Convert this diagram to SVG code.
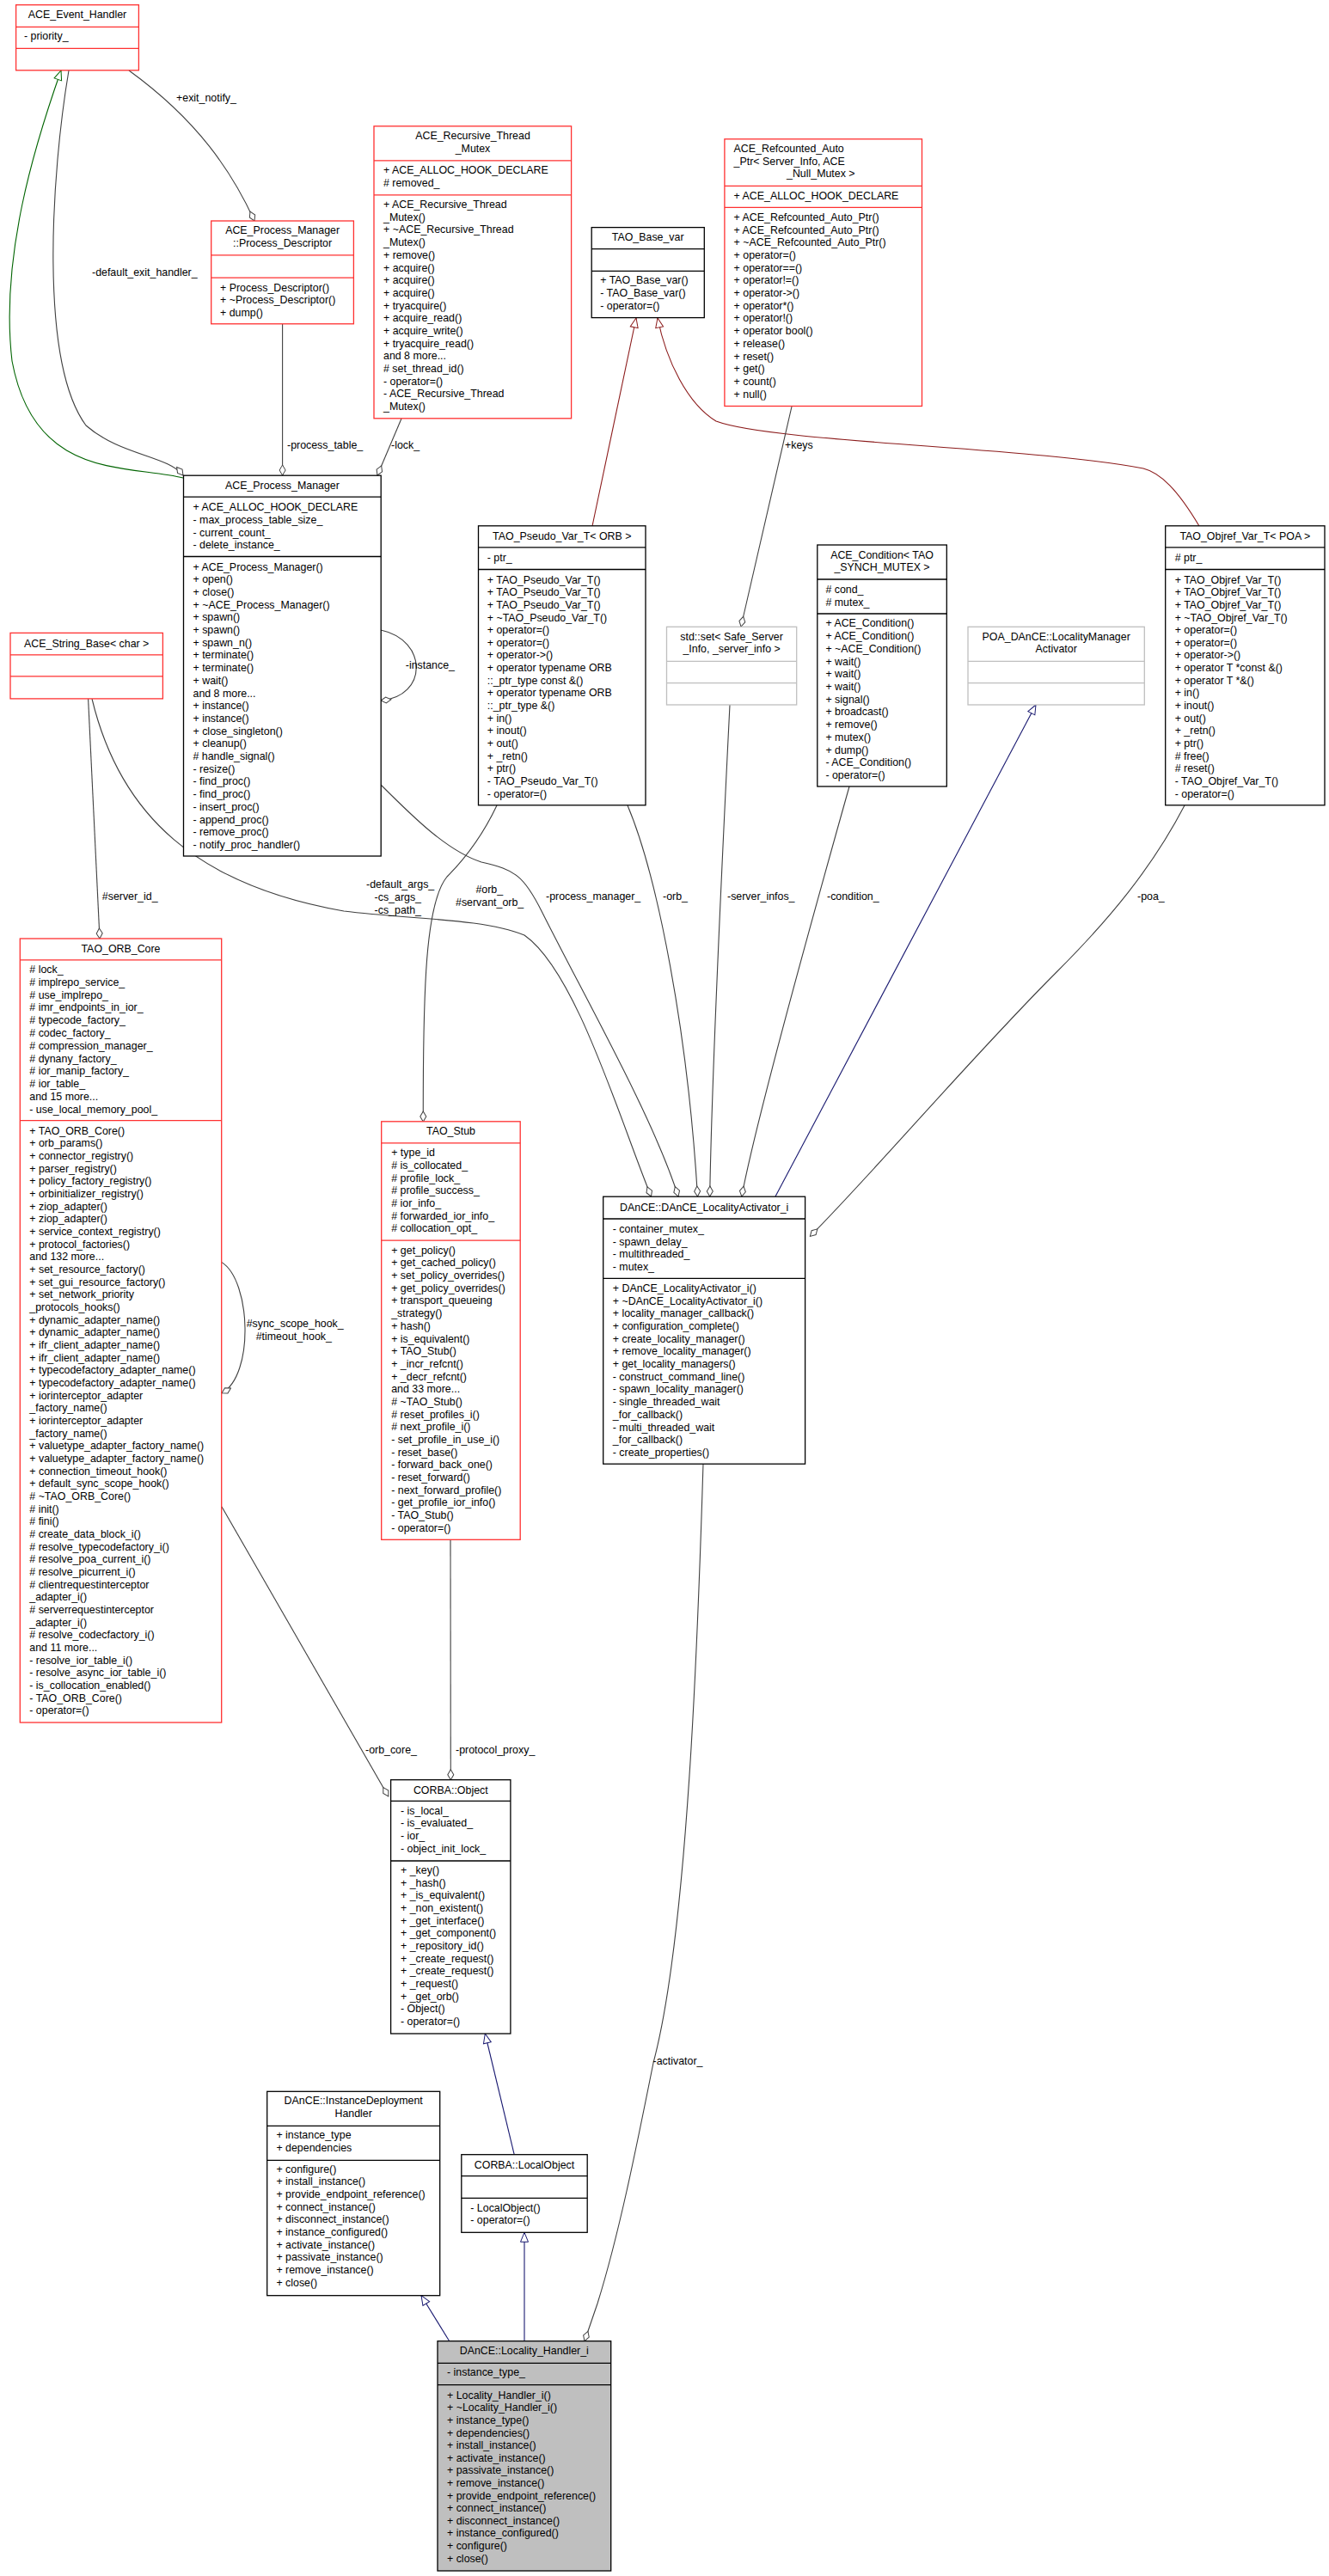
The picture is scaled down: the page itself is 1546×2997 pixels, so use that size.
<svg xmlns="http://www.w3.org/2000/svg" width="1546" height="2997" viewBox="0 0 1546 2997">
<style>
text{font-family:"Liberation Sans",Arial,sans-serif;font-size:12.4px;fill:#000}
.c{text-anchor:middle}
.box{fill:#fff;stroke:#000;stroke-width:1.3}
.red{fill:#fff;stroke:#ff3030;stroke-width:1.3}
.gry{fill:#fff;stroke:#bfbfbf;stroke-width:1.3}
.cur{fill:#bfbfbf;stroke:#000;stroke-width:1.3}
.e{fill:none;stroke:#404040;stroke-width:1.1}
.eg{fill:none;stroke:#006400;stroke-width:1.1}
.er{fill:none;stroke:#8b1a1a;stroke-width:1.1}
.eb{fill:none;stroke:#191970;stroke-width:1.1}
</style>
<defs>
<marker id="dm" markerUnits="userSpaceOnUse" markerWidth="14" markerHeight="10" viewBox="-1 -5 14 10" refX="12" refY="0" orient="auto"><path d="M0,0 L6,-3.5 L12,0 L6,3.5 Z" fill="#fff" stroke="#404040" stroke-width="1"/></marker>
<marker id="tg" markerUnits="userSpaceOnUse" markerWidth="14" markerHeight="12" viewBox="-1 -6 14 12" refX="11" refY="0" orient="auto"><path d="M0,-4.5 L11,0 L0,4.5 Z" fill="#fff" stroke="#006400" stroke-width="1"/></marker>
<marker id="tr" markerUnits="userSpaceOnUse" markerWidth="14" markerHeight="12" viewBox="-1 -6 14 12" refX="11" refY="0" orient="auto"><path d="M0,-4.5 L11,0 L0,4.5 Z" fill="#fff" stroke="#8b1a1a" stroke-width="1"/></marker>
<marker id="tb" markerUnits="userSpaceOnUse" markerWidth="14" markerHeight="12" viewBox="-1 -6 14 12" refX="11" refY="0" orient="auto"><path d="M0,-4.5 L11,0 L0,4.5 Z" fill="#fff" stroke="#191970" stroke-width="1"/></marker>
</defs>
<rect width="1546" height="2997" fill="#fff"/>

<g id="edges">
<path class="eg" marker-end="url(#tg)" d="M213,556 C150,540 40,560 14,420 C0,300 40,170 71,82"/>
<path class="e" marker-end="url(#dm)" d="M80,82 C60,200 45,420 100,495 C140,530 195,530 213,553"/>
<path class="e" marker-end="url(#dm)" d="M150,82 C230,140 270,200 296,257"/>
<path class="e" marker-end="url(#dm)" d="M328.6,377 L328.6,553"/>
<path class="e" marker-end="url(#dm)" d="M467,487 L439,553"/>
<path class="e" marker-end="url(#dm)" d="M443,733 C498,745 498,810 443,815"/>
<path class="er" marker-end="url(#tr)" d="M689,612 L740,370"/>
<path class="er" marker-end="url(#tr)" d="M1395,612 C1370,570 1350,550 1330,545 C1200,520 900,515 833,490 C800,470 775,420 765,370"/>
<path class="e" marker-end="url(#dm)" d="M921,473 L862,729"/>
<path class="e" marker-end="url(#dm)" d="M107,813 C140,950 230,1030 400,1060 C480,1070 560,1068 610,1088 C670,1130 720,1300 757.5,1392"/>
<path class="e" marker-end="url(#dm)" d="M443,913 C480,950 520,990 560,1003 C600,1012 610,1020 630,1060 C680,1160 760,1300 789,1392"/>
<path class="e" marker-end="url(#dm)" d="M730,937 C765,1020 800,1200 811.5,1392"/>
<path class="e" marker-end="url(#dm)" d="M849,820 C840,1000 828,1250 825.7,1392"/>
<path class="e" marker-end="url(#dm)" d="M988,915 C950,1050 880,1300 862.8,1392"/>
<path class="eb" marker-end="url(#tb)" d="M902,1392 L1205,820"/>
<path class="e" marker-end="url(#dm)" d="M1378,937 C1340,1010 1290,1070 1230,1130 C1130,1230 1020,1360 942.4,1438.4"/>
<path class="e" marker-end="url(#dm)" d="M102.6,813 L116,1092"/>
<path class="e" marker-end="url(#dm)" d="M578,937 C560,975 540,1000 520,1020 C495,1050 492,1150 492.3,1305"/>
<path class="e" marker-end="url(#dm)" d="M258,1468.6 C292,1490 296,1600 258,1620.7"/>
<path class="e" marker-end="url(#dm)" d="M258,1753 L451.8,2090"/>
<path class="e" marker-end="url(#dm)" d="M524,1791 L524.3,2070.7"/>
<path class="eb" marker-end="url(#tb)" d="M598.2,2506.7 L564.3,2366"/>
<path class="e" marker-end="url(#dm)" d="M818,1703 C812,1900 800,2250 760,2400 C740,2500 720,2600 695,2680 L680,2723.7"/>
<path class="eb" marker-end="url(#tb)" d="M522.7,2723.7 L490,2670.7"/>
<path class="eb" marker-end="url(#tb)" d="M610,2723.7 L610,2597.3"/>
<text x="205" y="118">+exit_notify_</text>
<text x="107" y="320.7">-default_exit_handler_</text>
<text x="334" y="522">-process_table_</text>
<text x="455" y="522">-lock_</text>
<text x="913" y="522">+keys</text>
<text x="471.8" y="777.5">-instance_</text>
<text x="118.8" y="1047">#server_id_</text>
<text x="426" y="1033">-default_args_</text>
<text x="435.6" y="1048">-cs_args_</text>
<text x="435.6" y="1063">-cs_path_</text>
<text x="553.4" y="1039">#orb_</text>
<text x="530" y="1054">#servant_orb_</text>
<text x="635" y="1047">-process_manager_</text>
<text x="771" y="1047">-orb_</text>
<text x="846" y="1047">-server_infos_</text>
<text x="962" y="1047">-condition_</text>
<text x="1323" y="1047">-poa_</text>
<text x="286.7" y="1543.6">#sync_scope_hook_</text>
<text x="297.7" y="1558.6">#timeout_hook_</text>
<text x="425" y="2040">-orb_core_</text>
<text x="530" y="2040">-protocol_proxy_</text>
<text x="759.6" y="2401.7">-activator_</text>
</g>

<g id="ACE_Event_Handler">
<rect class="red" x="18.6" y="5.7" width="142.8" height="76.1"/>
<path class="red" d="M18.6,31.4H161.4M18.6,56.4H161.4"/>
<text class="c" x="90" y="21.4">ACE_Event_Handler</text>
<text x="28" y="46.4">- priority_</text>
</g>

<g id="Process_Descriptor">
<rect class="red" x="245.7" y="257" width="165.7" height="119.8"/>
<path class="red" d="M245.7,296.8H411.4M245.7,323.2H411.4"/>
<text class="c" x="328.6" y="272">ACE_Process_Manager</text>
<text class="c" x="328.6" y="287">::Process_Descriptor</text>
<text x="256" y="338.6">+ Process_Descriptor()</text>
<text x="256" y="352.9">+ ~Process_Descriptor()</text>
<text x="256" y="367.5">+ dump()</text>
</g>

<g id="ACE_Recursive_Thread_Mutex">
<rect class="red" x="435" y="146.8" width="229.6" height="340"/>
<path class="red" d="M435,186.8H664.6M435,226.8H664.6"/>
<text class="c" x="550" y="161.8">ACE_Recursive_Thread</text>
<text class="c" x="550" y="176.8">_Mutex</text>
<text x="446" y="202">+ ACE_ALLOC_HOOK_DECLARE</text>
<text x="446" y="216.7"># removed_</text>
<text x="446" y="242">+ ACE_Recursive_Thread</text>
<text x="446" y="256.7">_Mutex()</text>
<text x="446" y="271.4">+ ~ACE_Recursive_Thread</text>
<text x="446" y="286.1">_Mutex()</text>
<text x="446" y="300.8">+ remove()</text>
<text x="446" y="315.5">+ acquire()</text>
<text x="446" y="330.1">+ acquire()</text>
<text x="446" y="344.8">+ acquire()</text>
<text x="446" y="359.5">+ tryacquire()</text>
<text x="446" y="374.2">+ acquire_read()</text>
<text x="446" y="388.9">+ acquire_write()</text>
<text x="446" y="403.6">+ tryacquire_read()</text>
<text x="446" y="418.3">and 8 more...</text>
<text x="446" y="433"># set_thread_id()</text>
<text x="446" y="447.7">- operator=()</text>
<text x="446" y="462.4">- ACE_Recursive_Thread</text>
<text x="446" y="477.1">_Mutex()</text>
</g>

<g id="TAO_Base_var">
<rect class="box" x="688.2" y="264.6" width="131.1" height="105"/>
<path class="box" d="M688.2,289.6H819.3M688.2,315.4H819.3"/>
<text class="c" x="753.7" y="280">TAO_Base_var</text>
<text x="698.2" y="330.4">+ TAO_Base_var()</text>
<text x="698.2" y="345">- TAO_Base_var()</text>
<text x="698.2" y="359.7">- operator=()</text>
</g>

<g id="ACE_Refcounted_Auto_Ptr">
<rect class="red" x="842.9" y="161.8" width="229.6" height="310.7"/>
<path class="red" d="M842.9,216.4H1072.5M842.9,241.4H1072.5"/>
<text x="853.6" y="176.8">ACE_Refcounted_Auto</text>
<text x="853.6" y="191.5">_Ptr&lt; Server_Info, ACE</text>
<text x="915" y="206.2">_Null_Mutex &gt;</text>
<text x="853.6" y="232">+ ACE_ALLOC_HOOK_DECLARE</text>
<text x="853.6" y="257">+ ACE_Refcounted_Auto_Ptr()</text>
<text x="853.6" y="271.7">+ ACE_Refcounted_Auto_Ptr()</text>
<text x="853.6" y="286.4">+ ~ACE_Refcounted_Auto_Ptr()</text>
<text x="853.6" y="301">+ operator=()</text>
<text x="853.6" y="315.7">+ operator==()</text>
<text x="853.6" y="330.4">+ operator!=()</text>
<text x="853.6" y="345.1">+ operator-&gt;()</text>
<text x="853.6" y="359.8">+ operator*()</text>
<text x="853.6" y="374.4">+ operator!()</text>
<text x="853.6" y="389.1">+ operator bool()</text>
<text x="853.6" y="403.8">+ release()</text>
<text x="853.6" y="418.5">+ reset()</text>
<text x="853.6" y="433.2">+ get()</text>
<text x="853.6" y="447.8">+ count()</text>
<text x="853.6" y="462.5">+ null()</text>
</g>

<g id="ACE_Process_Manager">
<rect class="box" x="213.5" y="553.2" width="229.7" height="442.8"/>
<path class="box" d="M213.5,578.2H443.2M213.5,647.5H443.2"/>
<text class="c" x="328.4" y="568.6">ACE_Process_Manager</text>
<text x="224.5" y="594.3">+ ACE_ALLOC_HOOK_DECLARE</text>
<text x="224.5" y="609">- max_process_table_size_</text>
<text x="224.5" y="623.7">- current_count_</text>
<text x="224.5" y="638.4">- delete_instance_</text>
<text x="224.5" y="663.5">+ ACE_Process_Manager()</text>
<text x="224.5" y="678.2">+ open()</text>
<text x="224.5" y="692.9">+ close()</text>
<text x="224.5" y="707.6">+ ~ACE_Process_Manager()</text>
<text x="224.5" y="722.3">+ spawn()</text>
<text x="224.5" y="737">+ spawn()</text>
<text x="224.5" y="751.7">+ spawn_n()</text>
<text x="224.5" y="766.4">+ terminate()</text>
<text x="224.5" y="781.1">+ terminate()</text>
<text x="224.5" y="795.8">+ wait()</text>
<text x="224.5" y="810.5">and 8 more...</text>
<text x="224.5" y="825.2">+ instance()</text>
<text x="224.5" y="839.9">+ instance()</text>
<text x="224.5" y="854.6">+ close_singleton()</text>
<text x="224.5" y="869.3">+ cleanup()</text>
<text x="224.5" y="884"># handle_signal()</text>
<text x="224.5" y="898.7">- resize()</text>
<text x="224.5" y="913.4">- find_proc()</text>
<text x="224.5" y="928.1">- find_proc()</text>
<text x="224.5" y="942.8">- insert_proc()</text>
<text x="224.5" y="957.5">- append_proc()</text>
<text x="224.5" y="972.2">- remove_proc()</text>
<text x="224.5" y="986.9">- notify_proc_handler()</text>
</g>

<g id="ACE_String_Base">
<rect class="red" x="12" y="736.4" width="177.4" height="76.5"/>
<path class="red" d="M12,761.8H189.4M12,786.8H189.4"/>
<text class="c" x="100.7" y="752.5">ACE_String_Base&lt; char &gt;</text>
</g>

<g id="TAO_Pseudo_Var_T">
<rect class="box" x="556.5" y="611.8" width="194.5" height="325"/>
<path class="box" d="M556.5,636.8H751M556.5,662.5H751"/>
<text class="c" x="653.8" y="627.5">TAO_Pseudo_Var_T&lt; ORB &gt;</text>
<text x="566.8" y="652.5">- ptr_</text>
<text x="566.8" y="678.6">+ TAO_Pseudo_Var_T()</text>
<text x="566.8" y="693.2">+ TAO_Pseudo_Var_T()</text>
<text x="566.8" y="707.9">+ TAO_Pseudo_Var_T()</text>
<text x="566.8" y="722.5">+ ~TAO_Pseudo_Var_T()</text>
<text x="566.8" y="737.2">+ operator=()</text>
<text x="566.8" y="751.8">+ operator=()</text>
<text x="566.8" y="766.4">+ operator-&gt;()</text>
<text x="566.8" y="781.1">+ operator typename ORB</text>
<text x="566.8" y="795.7">::_ptr_type const &amp;()</text>
<text x="566.8" y="810.4">+ operator typename ORB</text>
<text x="566.8" y="825">::_ptr_type &amp;()</text>
<text x="566.8" y="839.6">+ in()</text>
<text x="566.8" y="854.3">+ inout()</text>
<text x="566.8" y="868.9">+ out()</text>
<text x="566.8" y="883.6">+ _retn()</text>
<text x="566.8" y="898.2">+ ptr()</text>
<text x="566.8" y="912.8">- TAO_Pseudo_Var_T()</text>
<text x="566.8" y="927.5">- operator=()</text>
</g>

<g id="std_set">
<rect class="gry" x="775.5" y="729.3" width="151.2" height="90.7"/>
<path class="gry" d="M775.5,769.3H926.7M775.5,794.6H926.7"/>
<text class="c" x="851.1" y="744.6">std::set&lt; Safe_Server</text>
<text class="c" x="851.1" y="759.3">_Info, _server_info &gt;</text>
</g>

<g id="ACE_Condition">
<rect class="box" x="950.8" y="634" width="150.5" height="281"/>
<path class="box" d="M950.8,674H1101.3M950.8,714H1101.3"/>
<text class="c" x="1026" y="649.6">ACE_Condition&lt; TAO</text>
<text class="c" x="1026" y="664.3">_SYNCH_MUTEX &gt;</text>
<text x="960.4" y="690"># cond_</text>
<text x="960.4" y="704.7"># mutex_</text>
<text x="960.4" y="729.3">+ ACE_Condition()</text>
<text x="960.4" y="744">+ ACE_Condition()</text>
<text x="960.4" y="758.7">+ ~ACE_Condition()</text>
<text x="960.4" y="773.5">+ wait()</text>
<text x="960.4" y="788.2">+ wait()</text>
<text x="960.4" y="802.9">+ wait()</text>
<text x="960.4" y="817.6">+ signal()</text>
<text x="960.4" y="832.3">+ broadcast()</text>
<text x="960.4" y="847.1">+ remove()</text>
<text x="960.4" y="861.8">+ mutex()</text>
<text x="960.4" y="876.5">+ dump()</text>
<text x="960.4" y="891.2">- ACE_Condition()</text>
<text x="960.4" y="906">- operator=()</text>
</g>

<g id="POA_LocalityManagerActivator">
<rect class="gry" x="1126" y="729.3" width="205.3" height="90.7"/>
<path class="gry" d="M1126,769.3H1331.3M1126,794.6H1331.3"/>
<text class="c" x="1228.7" y="744.6">POA_DAnCE::LocalityManager</text>
<text class="c" x="1228.7" y="759.3">Activator</text>
</g>

<g id="TAO_Objref_Var_T">
<rect class="box" x="1355.7" y="611.8" width="185.3" height="325"/>
<path class="box" d="M1355.7,636.8H1541M1355.7,662.5H1541"/>
<text class="c" x="1448.3" y="627.5">TAO_Objref_Var_T&lt; POA &gt;</text>
<text x="1366.7" y="652.5"># ptr_</text>
<text x="1366.7" y="678.6">+ TAO_Objref_Var_T()</text>
<text x="1366.7" y="693.2">+ TAO_Objref_Var_T()</text>
<text x="1366.7" y="707.9">+ TAO_Objref_Var_T()</text>
<text x="1366.7" y="722.5">+ ~TAO_Objref_Var_T()</text>
<text x="1366.7" y="737.2">+ operator=()</text>
<text x="1366.7" y="751.8">+ operator=()</text>
<text x="1366.7" y="766.4">+ operator-&gt;()</text>
<text x="1366.7" y="781.1">+ operator T *const &amp;()</text>
<text x="1366.7" y="795.7">+ operator T *&amp;()</text>
<text x="1366.7" y="810.4">+ in()</text>
<text x="1366.7" y="825">+ inout()</text>
<text x="1366.7" y="839.6">+ out()</text>
<text x="1366.7" y="854.3">+ _retn()</text>
<text x="1366.7" y="868.9">+ ptr()</text>
<text x="1366.7" y="883.6"># free()</text>
<text x="1366.7" y="898.2"># reset()</text>
<text x="1366.7" y="912.8">- TAO_Objref_Var_T()</text>
<text x="1366.7" y="927.5">- operator=()</text>
</g>

<g id="TAO_ORB_Core">
<rect class="red" x="23.3" y="1092" width="234.4" height="912"/>
<path class="red" d="M23.3,1116.8H257.7M23.3,1303.6H257.7"/>
<text class="c" x="140.5" y="1107.9">TAO_ORB_Core</text>
<text x="34.3" y="1132"># lock_</text>
<text x="34.3" y="1146.8"># implrepo_service_</text>
<text x="34.3" y="1161.6"># use_implrepo_</text>
<text x="34.3" y="1176.3"># imr_endpoints_in_ior_</text>
<text x="34.3" y="1191.1"># typecode_factory_</text>
<text x="34.3" y="1205.9"># codec_factory_</text>
<text x="34.3" y="1220.7"># compression_manager_</text>
<text x="34.3" y="1235.5"># dynany_factory_</text>
<text x="34.3" y="1250.2"># ior_manip_factory_</text>
<text x="34.3" y="1265"># ior_table_</text>
<text x="34.3" y="1279.8">and 15 more...</text>
<text x="34.3" y="1294.6">- use_local_memory_pool_</text>
<text x="34.3" y="1319.6">+ TAO_ORB_Core()</text>
<text x="34.3" y="1334.3">+ orb_params()</text>
<text x="34.3" y="1348.9">+ connector_registry()</text>
<text x="34.3" y="1363.6">+ parser_registry()</text>
<text x="34.3" y="1378.3">+ policy_factory_registry()</text>
<text x="34.3" y="1392.9">+ orbinitializer_registry()</text>
<text x="34.3" y="1407.6">+ ziop_adapter()</text>
<text x="34.3" y="1422.3">+ ziop_adapter()</text>
<text x="34.3" y="1436.9">+ service_context_registry()</text>
<text x="34.3" y="1451.6">+ protocol_factories()</text>
<text x="34.3" y="1466.3">and 132 more...</text>
<text x="34.3" y="1480.9">+ set_resource_factory()</text>
<text x="34.3" y="1495.6">+ set_gui_resource_factory()</text>
<text x="34.3" y="1510.3">+ set_network_priority</text>
<text x="34.3" y="1524.9">_protocols_hooks()</text>
<text x="34.3" y="1539.6">+ dynamic_adapter_name()</text>
<text x="34.3" y="1554.3">+ dynamic_adapter_name()</text>
<text x="34.3" y="1568.9">+ ifr_client_adapter_name()</text>
<text x="34.3" y="1583.6">+ ifr_client_adapter_name()</text>
<text x="34.3" y="1598.3">+ typecodefactory_adapter_name()</text>
<text x="34.3" y="1612.9">+ typecodefactory_adapter_name()</text>
<text x="34.3" y="1627.6">+ iorinterceptor_adapter</text>
<text x="34.3" y="1642.3">_factory_name()</text>
<text x="34.3" y="1656.9">+ iorinterceptor_adapter</text>
<text x="34.3" y="1671.6">_factory_name()</text>
<text x="34.3" y="1686.3">+ valuetype_adapter_factory_name()</text>
<text x="34.3" y="1700.9">+ valuetype_adapter_factory_name()</text>
<text x="34.3" y="1715.6">+ connection_timeout_hook()</text>
<text x="34.3" y="1730.3">+ default_sync_scope_hook()</text>
<text x="34.3" y="1744.9"># ~TAO_ORB_Core()</text>
<text x="34.3" y="1759.6"># init()</text>
<text x="34.3" y="1774.3"># fini()</text>
<text x="34.3" y="1788.9"># create_data_block_i()</text>
<text x="34.3" y="1803.6"># resolve_typecodefactory_i()</text>
<text x="34.3" y="1818.3"># resolve_poa_current_i()</text>
<text x="34.3" y="1832.9"># resolve_picurrent_i()</text>
<text x="34.3" y="1847.6"># clientrequestinterceptor</text>
<text x="34.3" y="1862.3">_adapter_i()</text>
<text x="34.3" y="1876.9"># serverrequestinterceptor</text>
<text x="34.3" y="1891.6">_adapter_i()</text>
<text x="34.3" y="1906.3"># resolve_codecfactory_i()</text>
<text x="34.3" y="1920.9">and 11 more...</text>
<text x="34.3" y="1935.6">- resolve_ior_table_i()</text>
<text x="34.3" y="1950.3">- resolve_async_ior_table_i()</text>
<text x="34.3" y="1964.9">- is_collocation_enabled()</text>
<text x="34.3" y="1979.6">- TAO_ORB_Core()</text>
<text x="34.3" y="1994.3">- operator=()</text>
</g>

<g id="TAO_Stub">
<rect class="red" x="443.7" y="1304.8" width="161.5" height="486.5"/>
<path class="red" d="M443.7,1329.9H605.2M443.7,1443.2H605.2"/>
<text class="c" x="524.5" y="1320.3">TAO_Stub</text>
<text x="455.2" y="1345.4">+ type_id</text>
<text x="455.2" y="1360"># is_collocated_</text>
<text x="455.2" y="1374.7"># profile_lock_</text>
<text x="455.2" y="1389.3"># profile_success_</text>
<text x="455.2" y="1403.9"># ior_info_</text>
<text x="455.2" y="1418.6"># forwarded_ior_info_</text>
<text x="455.2" y="1433.2"># collocation_opt_</text>
<text x="455.2" y="1458.7">+ get_policy()</text>
<text x="455.2" y="1473.4">+ get_cached_policy()</text>
<text x="455.2" y="1488.1">+ set_policy_overrides()</text>
<text x="455.2" y="1502.7">+ get_policy_overrides()</text>
<text x="455.2" y="1517.4">+ transport_queueing</text>
<text x="455.2" y="1532.1">_strategy()</text>
<text x="455.2" y="1546.8">+ hash()</text>
<text x="455.2" y="1561.5">+ is_equivalent()</text>
<text x="455.2" y="1576.1">+ TAO_Stub()</text>
<text x="455.2" y="1590.8">+ _incr_refcnt()</text>
<text x="455.2" y="1605.5">+ _decr_refcnt()</text>
<text x="455.2" y="1620.2">and 33 more...</text>
<text x="455.2" y="1634.9"># ~TAO_Stub()</text>
<text x="455.2" y="1649.5"># reset_profiles_i()</text>
<text x="455.2" y="1664.2"># next_profile_i()</text>
<text x="455.2" y="1678.9">- set_profile_in_use_i()</text>
<text x="455.2" y="1693.6">- reset_base()</text>
<text x="455.2" y="1708.3">- forward_back_one()</text>
<text x="455.2" y="1722.9">- reset_forward()</text>
<text x="455.2" y="1737.6">- next_forward_profile()</text>
<text x="455.2" y="1752.3">- get_profile_ior_info()</text>
<text x="455.2" y="1767">- TAO_Stub()</text>
<text x="455.2" y="1781.7">- operator=()</text>
</g>

<g id="DAnCE_LocalityActivator_i">
<rect class="box" x="701.7" y="1392.2" width="234.9" height="311"/>
<path class="box" d="M701.7,1418H936.6M701.7,1487.3H936.6"/>
<text class="c" x="819.2" y="1408.8">DAnCE::DAnCE_LocalityActivator_i</text>
<text x="712.8" y="1434">- container_mutex_</text>
<text x="712.8" y="1448.7">- spawn_delay_</text>
<text x="712.8" y="1463.4">- multithreaded_</text>
<text x="712.8" y="1478.1">- mutex_</text>
<text x="712.8" y="1502.8">+ DAnCE_LocalityActivator_i()</text>
<text x="712.8" y="1517.5">+ ~DAnCE_LocalityActivator_i()</text>
<text x="712.8" y="1532.2">+ locality_manager_callback()</text>
<text x="712.8" y="1546.9">+ configuration_complete()</text>
<text x="712.8" y="1561.6">+ create_locality_manager()</text>
<text x="712.8" y="1576.3">+ remove_locality_manager()</text>
<text x="712.8" y="1591">+ get_locality_managers()</text>
<text x="712.8" y="1605.7">- construct_command_line()</text>
<text x="712.8" y="1620.4">- spawn_locality_manager()</text>
<text x="712.8" y="1635.1">- single_threaded_wait</text>
<text x="712.8" y="1649.8">_for_callback()</text>
<text x="712.8" y="1664.5">- multi_threaded_wait</text>
<text x="712.8" y="1679.2">_for_callback()</text>
<text x="712.8" y="1693.9">- create_properties()</text>
</g>

<g id="CORBA_Object">
<rect class="box" x="454.6" y="2070.7" width="139.3" height="295.3"/>
<path class="box" d="M454.6,2095.3H593.9M454.6,2165H593.9"/>
<text class="c" x="524.3" y="2086.7">CORBA::Object</text>
<text x="466" y="2110.7">- is_local_</text>
<text x="466" y="2125.3">- is_evaluated_</text>
<text x="466" y="2140">- ior_</text>
<text x="466" y="2154.6">- object_init_lock_</text>
<text x="466" y="2180">+ _key()</text>
<text x="466" y="2194.7">+ _hash()</text>
<text x="466" y="2209.3">+ _is_equivalent()</text>
<text x="466" y="2224">+ _non_existent()</text>
<text x="466" y="2238.7">+ _get_interface()</text>
<text x="466" y="2253.3">+ _get_component()</text>
<text x="466" y="2268">+ _repository_id()</text>
<text x="466" y="2282.7">+ _create_request()</text>
<text x="466" y="2297.3">+ _create_request()</text>
<text x="466" y="2312">+ _request()</text>
<text x="466" y="2326.7">+ _get_orb()</text>
<text x="466" y="2341.3">- Object()</text>
<text x="466" y="2356">- operator=()</text>
</g>

<g id="InstanceDeploymentHandler">
<rect class="box" x="310.7" y="2433.3" width="201" height="237.4"/>
<path class="box" d="M310.7,2473.3H511.7M310.7,2513.3H511.7"/>
<text class="c" x="411.2" y="2448.3">DAnCE::InstanceDeployment</text>
<text class="c" x="411.2" y="2463">Handler</text>
<text x="321.4" y="2488.3">+ instance_type</text>
<text x="321.4" y="2503">+ dependencies</text>
<text x="321.4" y="2527.7">+ configure()</text>
<text x="321.4" y="2542.4">+ install_instance()</text>
<text x="321.4" y="2557">+ provide_endpoint_reference()</text>
<text x="321.4" y="2571.7">+ connect_instance()</text>
<text x="321.4" y="2586.4">+ disconnect_instance()</text>
<text x="321.4" y="2601">+ instance_configured()</text>
<text x="321.4" y="2615.7">+ activate_instance()</text>
<text x="321.4" y="2630.4">+ passivate_instance()</text>
<text x="321.4" y="2645">+ remove_instance()</text>
<text x="321.4" y="2659.7">+ close()</text>
</g>

<g id="CORBA_LocalObject">
<rect class="box" x="536.8" y="2506.7" width="146.4" height="90.6"/>
<path class="box" d="M536.8,2531.7H683.2M536.8,2557.3H683.2"/>
<text class="c" x="610" y="2522.7">CORBA::LocalObject</text>
<text x="547.3" y="2572.7">- LocalObject()</text>
<text x="547.3" y="2587.3">- operator=()</text>
</g>

<g id="DAnCE_Locality_Handler_i">
<rect class="cur" x="509" y="2723.7" width="201.7" height="267.3"/>
<path class="cur" d="M509,2749.3H710.7M509,2774.7H710.7"/>
<text class="c" x="609.8" y="2739.3">DAnCE::Locality_Handler_i</text>
<text x="520" y="2764.3">- instance_type_</text>
<text x="520" y="2790.7">+ Locality_Handler_i()</text>
<text x="520" y="2805.3">+ ~Locality_Handler_i()</text>
<text x="520" y="2819.9">+ instance_type()</text>
<text x="520" y="2834.5">+ dependencies()</text>
<text x="520" y="2849.1">+ install_instance()</text>
<text x="520" y="2863.7">+ activate_instance()</text>
<text x="520" y="2878.3">+ passivate_instance()</text>
<text x="520" y="2892.9">+ remove_instance()</text>
<text x="520" y="2907.5">+ provide_endpoint_reference()</text>
<text x="520" y="2922.1">+ connect_instance()</text>
<text x="520" y="2936.7">+ disconnect_instance()</text>
<text x="520" y="2951.3">+ instance_configured()</text>
<text x="520" y="2965.9">+ configure()</text>
<text x="520" y="2980.5">+ close()</text>
</g>
</svg>
